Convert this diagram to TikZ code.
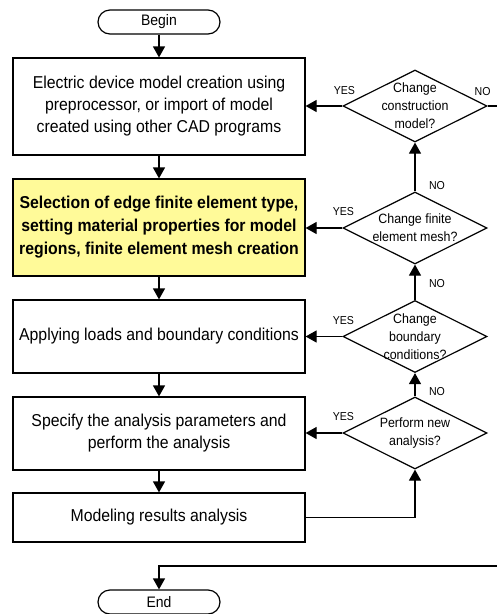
\documentclass[tikz,border=0pt]{standalone}
\usepackage{fontspec}
\setmainfont[FakeStretch=0.92]{Liberation Sans}
\usetikzlibrary{shapes.geometric,arrows.meta}

\begin{document}
\begin{tikzpicture}[x=1pt,y=-1pt,line width=1.2pt,
  box/.style={draw,minimum width=292pt,align=center,font=\fontsize{17.2}{22}\selectfont},
  term/.style={draw,rounded corners=12pt,minimum width=122pt,minimum height=24pt,inner sep=0pt,font=\fontsize{15.2}{18}\selectfont},
  ask/.style={draw,diamond,aspect=2,inner sep=0pt,minimum width=144pt,minimum height=72pt},
  asktext/.style={align=center,inner sep=0pt,font=\fontsize{13.5}{18}\selectfont},
  lbl/.style={font=\fontsize{11.5}{14}\selectfont},
  arr/.style={-{Triangle[length=11pt,width=12pt]}}]

\clip (0,0) rectangle (497,614);

\node[term] (begin) at (159,22) {Begin};
\node[box,minimum height=97pt] (b1) at (159,106.5) {Electric device model creation using\\preprocessor, or  import of model\\created using other CAD programs};
\node[box,minimum height=97pt,fill=yellow!40,font=\fontsize{17.2}{23}\selectfont\bfseries] (b2) at (159,227.5) {Selection of edge finite element type,\\setting material properties for model\\regions, finite element mesh creation};
\node[box,minimum height=73pt] (b3) at (159,336.5) {Applying loads and boundary conditions};
\node[box,minimum height=73pt] (b4) at (159,433.5) {Specify the analysis parameters and\\perform the analysis};
\node[box,minimum height=49pt] (b5) at (159,517.5) {Modeling results analysis};
\node[term] (end) at (159,602) {End};

\node[ask] (d1) at (415,106) {};
\node[asktext] (d1t) at (d1) {Change\\construction\\model?};
\node[ask] (d2) at (415,228) {};
\node[asktext] (d2t) at (d2) {Change finite\\element mesh?};
\node[ask] (d3) at (415,336.5) {};
\node[asktext] (d3t) at (d3) {Change\\boundary\\conditions?};
\node[ask] (d4) at (415,433) {};
\node[asktext] (d4t) at (d4) {Perform new\\analysis?};

\coordinate (rt) at (505,566);

\draw[arr] (begin) -- (b1);
\draw[arr] (b1) -- (b2);
\draw[arr] (b2) -- (b3);
\draw[arr] (b3) -- (b4);
\draw[arr] (b4) -- (b5);
\draw[arr] (b5.east) -| (d4.south);
\draw[arr] (d4) -- (d3);
\draw[arr] (d3) -- (d2);
\draw[arr] (d2) -- (d1);
\draw[arr] (d1.west) -- (d1.west -| b1.east);
\draw[arr] (d2.west) -- (d2.west -| b2.east);
\draw[arr] (d3.west) -- (d3.west -| b3.east);
\draw[arr] (d4.west) -- (d4.west -| b4.east);
\draw[arr] (d1.east) -| (rt) -| (end.north);

\node[lbl] (y1) at ([shift={(2,-15)}]d1.west) {YES};
\node[lbl] (y2) at ([shift={(1,-16)}]d2.west) {YES};
\node[lbl] (y3) at ([shift={(1,-16)}]d3.west) {YES};
\node[lbl] (y4) at ([shift={(1,-16)}]d4.west) {YES};
\node[lbl] (n1) at ([shift={(-5,-14)}]d1.east) {NO};
\node[lbl] (n2) at (437,186) {NO};
\node[lbl] (n3) at (437,284) {NO};
\node[lbl] (n4) at (437,392) {NO};
\end{tikzpicture}
\end{document}
